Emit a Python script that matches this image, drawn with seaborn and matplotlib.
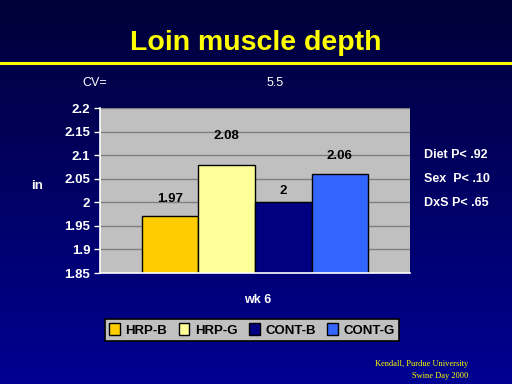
import matplotlib
matplotlib.use("Agg")
import matplotlib.pyplot as plt
import numpy as np
import pandas as pd
import seaborn as sns

# data
groups = ["HRP-B", "HRP-G", "CONT-B", "CONT-G"]
depth = [1.97, 2.08, 2.00, 2.06]
value_labels = ["1.97", "2.08", "2", "2.06"]
week = ["wk 6"] * 4
yticks = [1.85, 1.9, 1.95, 2.0, 2.05, 2.1, 2.15, 2.2]
ytick_labels = ["1.85", "1.9", "1.95", "2", "2.05", "2.1", "2.15", "2.2"]
stats = ["Diet P< .92", "Sex  P< .10", "DxS P< .65"]
palette = ["#FFCC00", "#FFFF99", "#000080", "#3366FF"]
label_pad = [8, 16.5, 3.6, 8.6]  # label offsets as placed on the slide

sns.set_theme(style="white")
plt.rcParams["font.family"] = ["Liberation Sans", "DejaVu Sans"]

df = pd.DataFrame({"week": week, "group": groups, "depth": depth})

fig = plt.figure(figsize=(5.12, 3.84), dpi=100)

# slide background gradient
bg = fig.add_axes([0, 0, 1, 1], zorder=-10)
grad = np.linspace(0, 1, 256).reshape(-1, 1)
top = np.array([0x00, 0x00, 0x38]) / 255
bot = np.array([0x00, 0x00, 0x92]) / 255
img = top + grad[..., None] * (bot - top)
bg.imshow(img, aspect="auto", extent=[0, 1, 0, 1])
bg.axis("off")
bg.plot([0, 1], [1 - 63 / 384, 1 - 63 / 384], color="#FFFF00", lw=2.2)
bg.set_xlim(0, 1)
bg.set_ylim(0, 1)

ax = fig.add_axes([100 / 512, 1 - 273 / 384, 310 / 512, 165 / 384])
sns.barplot(data=df, x="week", y="depth", hue="group", palette=palette,
            saturation=1, width=0.73, edgecolor="black", linewidth=1,
            legend=False, ax=ax)
ax.set_facecolor("#C0C0C0")
ax.set_xlim(-0.5, 0.5)
ax.set_ylim(1.85, 2.2)
ax.set_yticks(yticks)
ax.set_yticklabels(ytick_labels, color="white", fontsize=9.5, fontweight="bold")
ax.yaxis.grid(True, color="#808080", lw=1)
ax.set_axisbelow(True)
ax.set_xticks([])
ax.set_xlabel("")
ax.set_ylabel("")
ax.tick_params(axis="y", left=True, length=4, color="white", width=1, pad=3)
for side in ["top", "right"]:
    ax.spines[side].set_visible(False)
for side in ["left", "bottom"]:
    ax.spines[side].set_color("white")
    ax.spines[side].set_linewidth(1.2)

for cont, lab, pad in zip(ax.containers, value_labels, label_pad):
    ax.bar_label(cont, labels=[lab], padding=pad, fontsize=9.5,
                 fontweight="bold", color="black")

fig.text(258 / 512, 1 - 300 / 384, "wk 6", color="white", fontsize=9,
         fontweight="bold", ha="center", va="center")
fig.text(37 / 512, 1 - 186 / 384, "in", color="white", fontsize=9.5,
         fontweight="bold", ha="center", va="center")
fig.text(82 / 512, 1 - 83 / 384, "CV=", color="white", fontsize=9,
         ha="left", va="center")
fig.text(275 / 512, 1 - 83 / 384, "5.5", color="white", fontsize=9,
         ha="center", va="center")
for i, s in enumerate(stats):
    fig.text(424 / 512, 1 - (155 + 24 * i) / 384, s, color="white",
             fontsize=9, fontweight="bold", ha="left", va="center")

fig.text(0.5, 1 - 43 / 384, "Loin muscle depth", color="#FFFF00",
         fontsize=20.5, fontweight="bold", ha="center", va="center")

fig.text(468 / 512, 1 - 364 / 384, "Kendall, Purdue University",
         color="#FFFF00", fontsize=6, family="Liberation Serif",
         ha="right", va="center")
fig.text(468 / 512, 1 - 376 / 384, "Swine Day 2000",
         color="#FFFF00", fontsize=6, family="Liberation Serif",
         ha="right", va="center")

# legend
handles = [plt.Rectangle((0, 0), 1, 1, facecolor=c, edgecolor="black", lw=1)
           for c in palette]
leg = fig.legend(handles, groups, loc="center", ncol=4,
                 bbox_to_anchor=(252 / 512, 1 - 330 / 384),
                 frameon=True, fancybox=False, edgecolor="black",
                 facecolor="#C0C0C0", framealpha=1, labelcolor="black",
                 prop={"weight": "bold", "size": 9.5},
                 handlelength=0.8, handleheight=1.0, handletextpad=0.4,
                 columnspacing=0.9, borderpad=0.35)
leg.get_frame().set_linewidth(1.2)

fig.savefig("out.png", dpi=100)
